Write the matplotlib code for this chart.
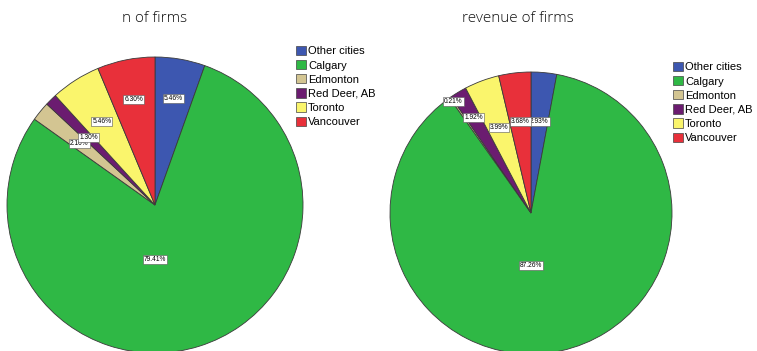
import numpy as np
import matplotlib.pyplot as plt
from matplotlib.patches import Patch

cities = ['Other cities', 'Calgary', 'Edmonton', 'Red Deer, AB', 'Toronto', 'Vancouver']
n_firms = [5.46, 79.41, 2.10, 1.30, 5.46, 6.30]
revenue = [2.93, 87.26, 0.21, 1.92, 3.99, 3.68]
colors = ['#3D57B0', '#2FB845', '#D3C592', '#6B1C70', '#FAF56C', '#E8303A']

# where each percent label sits, as a fraction of the radius
lab_dist_n = [0.73, 0.37, 0.66, 0.64, 0.67, 0.73]
lab_dist_rev = [0.65, 0.37, 0.96, 0.79, 0.65, 0.65]

fig = plt.figure(figsize=(7.57, 3.51), dpi=100)


def draw_pie(rect, values, dists):
    ax = fig.add_axes(rect)
    wedges, _ = ax.pie(values, colors=colors, startangle=90, counterclock=False,
                       wedgeprops=dict(edgecolor='#3a3a3a', linewidth=0.6))
    for w, v, d in zip(wedges, values, dists):
        ang = np.deg2rad((w.theta1 + w.theta2) / 2)
        if v > 50:
            ang = np.deg2rad(-90)
        ax.text(d * np.cos(ang), d * np.sin(ang), '%.2f%%' % v,
                ha='center', va='center', fontsize=4.8, family='Liberation Sans',
                bbox=dict(boxstyle='square,pad=0.15', fc='white', ec='#555555', lw=0.4))
    ax.set_xlim(-1, 1)
    ax.set_ylim(-1, 1)
    ax.set_aspect('equal')
    ax.set_axis_off()
    return ax


draw_pie([7 / 757, -2 / 351, 296 / 757, 296 / 351], n_firms, lab_dist_n)
draw_pie([390 / 757, -3 / 351, 282 / 757, 282 / 351], revenue, lab_dist_rev)

fig.text(155 / 757, 1 - 18 / 351, 'n of firms', ha='center', va='center',
         fontsize=11, family='Open Sans', weight='light', color='#111111')
fig.text(518 / 757, 1 - 18 / 351, 'revenue of firms', ha='center', va='center',
         fontsize=11, family='Open Sans', weight='light', color='#111111')

handles = [Patch(facecolor=c, edgecolor='#444444', linewidth=0.5) for c in colors]
for x, y in [(296 / 757, 1 - 46 / 351), (673 / 757, 1 - 62 / 351)]:
    fig.legend(handles, cities, loc='upper left', bbox_to_anchor=(x, y),
               frameon=False, borderpad=0, borderaxespad=0, handlelength=0.9,
               handleheight=0.9, handletextpad=0.2, labelspacing=0.33,
               prop=dict(family='Liberation Sans', size=8))

fig.savefig('out.png', dpi=100)
